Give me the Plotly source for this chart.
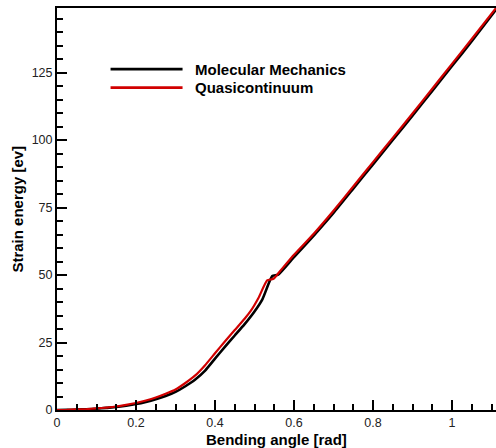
import plotly.graph_objects as go

# Molecular Mechanics (black)
angle_mm = [0, 0.025, 0.05, 0.075, 0.1, 0.125, 0.15, 0.175, 0.2, 0.225, 0.25, 0.275, 0.3,
            0.325, 0.35, 0.375, 0.4, 0.425, 0.45, 0.475, 0.5, 0.52, 0.545, 0.56, 0.6,
            0.65, 0.7, 0.75, 0.8, 0.85, 0.9, 0.95, 1.0, 1.05, 1.112]
energy_mm = [0, 0.04, 0.15, 0.3, 0.5, 0.8, 1.1, 1.6, 2.2, 3.0, 4.0, 5.2, 6.7,
             8.8, 11.3, 14.6, 19.0, 23.4, 27.6, 31.8, 36.5, 41.0, 49.6, 50.1, 56.6,
             64.6, 73.0, 82.0, 91.0, 100.0, 109.0, 118.2, 127.4, 136.6, 148.4]

# Quasicontinuum (red)
angle_qc = [0, 0.025, 0.05, 0.075, 0.1, 0.125, 0.15, 0.175, 0.2, 0.225, 0.25, 0.275, 0.3,
            0.325, 0.35, 0.375, 0.4, 0.425, 0.45, 0.475, 0.49, 0.51, 0.532, 0.548, 0.565,
            0.6, 0.65, 0.7, 0.75, 0.8, 0.85, 0.9, 0.95, 1.0, 1.05, 1.112]
energy_qc = [0, 0.05, 0.2, 0.35, 0.6, 0.9, 1.3, 1.9, 2.6, 3.5, 4.6, 6.0, 7.6,
             10.0, 12.8, 16.6, 21.0, 25.4, 29.6, 33.8, 36.6, 41.5, 48.0, 48.6, 51.5,
             57.5, 65.3, 73.8, 82.8, 91.8, 100.8, 109.8, 119.0, 128.2, 137.4, 149.0]

series_names = ["Molecular Mechanics", "Quasicontinuum"]
series_colors = ["#000000", "#d10000"]

x_range = [0, 1.1114]
y_range = [0, 148.9]

# tick positions: every minor step, labels only on the major ones
x_tickvals = [round(i * 0.05, 2) for i in range(23)]
x_ticktext = [("%g" % v) if round(v / 0.2, 6).is_integer() else "" for v in x_tickvals]
y_tickvals = [i * 5 for i in range(30)]
y_ticktext = [str(v) if v % 25 == 0 else "" for v in y_tickvals]

fig = go.Figure()
fig.add_trace(go.Scatter(x=angle_mm, y=energy_mm, mode="lines", name=series_names[0],
                         line=dict(color=series_colors[0], width=2.6, shape="spline", smoothing=0.5),
                         showlegend=False))
fig.add_trace(go.Scatter(x=angle_qc, y=energy_qc, mode="lines", name=series_names[1],
                         line=dict(color=series_colors[1], width=2.2, shape="spline", smoothing=0.5),
                         showlegend=False))
# empty trace so the overlay (major-tick) axes get drawn
fig.add_trace(go.Scatter(x=[], y=[], xaxis="x2", yaxis="y2", mode="lines",
                         showlegend=False, hoverinfo="skip"))

# manual legend (long line samples like the original)
leg_y = [0.848, 0.802]
for i in range(2):
    fig.add_shape(type="line", xref="paper", yref="paper", x0=0.122, x1=0.286,
                  y0=leg_y[i], y1=leg_y[i], line=dict(color=series_colors[i], width=2.6))
    fig.add_annotation(xref="paper", yref="paper", x=0.31, y=leg_y[i], xanchor="left",
                       yanchor="middle", showarrow=False, text="<b>%s</b>" % series_names[i],
                       font=dict(family="Liberation Sans, Arial", size=15, color="#000"))

title_font = dict(family="Liberation Sans, Arial", size=15, color="#000")
fig.add_annotation(xref="paper", yref="paper", x=0.5, y=-0.073, xanchor="center", yanchor="middle",
                   showarrow=False, text="<b>Bending angle [rad]</b>", font=title_font)
fig.add_annotation(xref="paper", yref="paper", x=-0.092, y=0.5, xanchor="center", yanchor="middle",
                   showarrow=False, text="<b>Strain energy [ev]</b>", textangle=-90, font=title_font)

axis_font = dict(family="Liberation Sans, Arial", size=12.5, color="#222")
fig.update_layout(
    width=496, height=448,
    margin=dict(l=57, r=0, t=8, b=38),
    plot_bgcolor="white", paper_bgcolor="white",
    font=dict(family="Liberation Sans, Arial"),
    xaxis=dict(range=x_range, tickmode="array", tickvals=x_tickvals, ticktext=x_ticktext,
               ticks="inside", ticklen=6, tickwidth=1.5, tickcolor="black",
               showline=True, linecolor="black", linewidth=2, mirror=True,
               showgrid=False, zeroline=False, tickfont=axis_font, automargin=False,
               ticklabelstandoff=0),
    yaxis=dict(range=y_range, tickmode="array", tickvals=y_tickvals, ticktext=y_ticktext,
               ticks="inside", ticklen=6, tickwidth=1.5, tickcolor="black",
               showline=True, linecolor="black", linewidth=2,
               showgrid=False, zeroline=False, tickfont=axis_font, automargin=False),
    # overlay axes carrying the longer major ticks
    xaxis2=dict(range=x_range, overlaying="x", anchor="y", side="bottom",
                tickmode="linear", tick0=0, dtick=0.2,
                ticks="inside", ticklen=10, tickwidth=2, tickcolor="black",
                showticklabels=False, showline=False, showgrid=False, zeroline=False,
                automargin=False),
    yaxis2=dict(range=y_range, overlaying="y", anchor="x", side="left",
                tickmode="linear", tick0=0, dtick=25,
                ticks="inside", ticklen=10, tickwidth=2, tickcolor="black",
                showticklabels=False, showline=False, showgrid=False, zeroline=False,
                automargin=False),
)

fig.write_html("out.html", config={"displayModeBar": False},
               post_script="document.body.style.margin='0';document.body.style.overflow='hidden';")
